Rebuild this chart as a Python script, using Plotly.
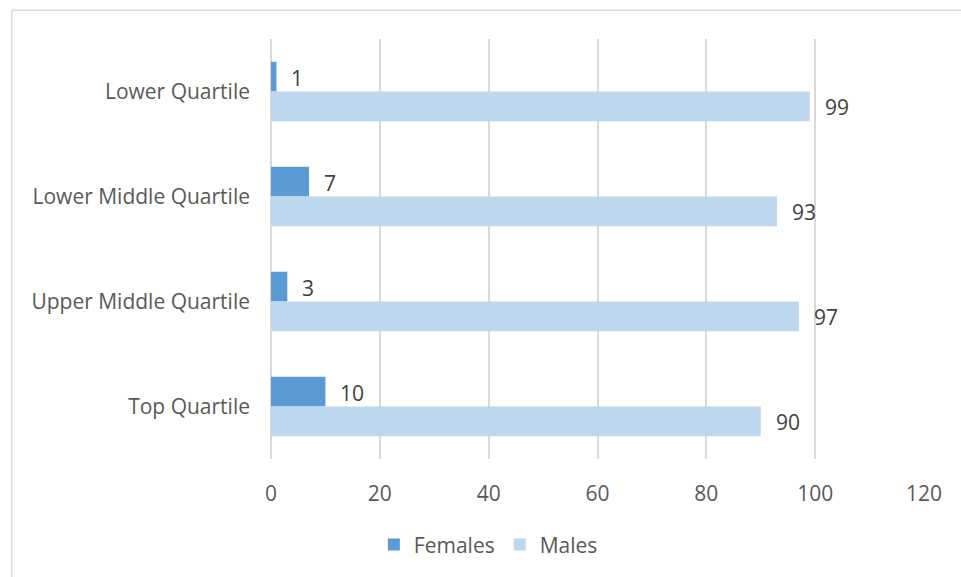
import plotly.graph_objects as go

categories = ["Lower Quartile", "Lower Middle Quartile", "Upper Middle Quartile", "Top Quartile"]
females = [1, 7, 3, 10]
males = [99, 93, 97, 90]
x_ticks = [0, 20, 40, 60, 80, 100, 120]

FONT = "Open Sans"
FS = 21
FEMALE_COLOR = "#5B9BD5"
MALE_COLOR = "#BDD7EE"

W, H = 961, 577
L, R, T, B = 270.5, 37, 39, 114.5
PW = W - L - R
PH = H - T - B

fig = go.Figure()
fig.add_trace(go.Bar(y=categories, x=females, name="Females", orientation="h",
                     marker=dict(color=FEMALE_COLOR, line=dict(width=0))))
fig.add_trace(go.Bar(y=categories, x=males, name="Males", orientation="h",
                     marker=dict(color=MALE_COLOR, line=dict(width=0))))

bargap = 0.433
half = (1 - bargap) / 4
annotations = []
for i, cat in enumerate(categories):
    for val, off in ((females[i], -half), (males[i], half)):
        annotations.append(dict(x=val, y=i + off, xref="x", yref="y", text=str(val),
                                showarrow=False, xanchor="left", yanchor="middle",
                                xshift=13, yshift=-1,
                                font=dict(family=FONT, size=FS, color="#404040")))

def px_to_paper_x(px):
    return (px - L) / PW

def py_to_paper_y(py):
    return (H - B - py) / PH

fig.update_layout(
    width=W, height=H,
    margin=dict(l=L, r=R, t=T, b=B, pad=0),
    paper_bgcolor="white", plot_bgcolor="white",
    barmode="group", bargap=bargap, bargroupgap=0,
    font=dict(family=FONT, size=FS, color="#595959"),
    xaxis=dict(range=[0, 120], tickvals=x_ticks, showgrid=True, gridcolor="#D9D9D9",
               gridwidth=1.5, zeroline=True, zerolinecolor="#D9D9D9", zerolinewidth=1.5,
               showline=False, ticks="", ticklabelstandoff=20,
               tickfont=dict(family=FONT, size=FS, color="#595959")),
    yaxis=dict(autorange="reversed", showgrid=False, zeroline=False, showline=False,
               ticks="", ticklabelstandoff=20,
               tickfont=dict(family=FONT, size=FS, color="#595959")),
    legend=dict(orientation="h", x=px_to_paper_x(488), xanchor="center",
                y=py_to_paper_y(549), yanchor="middle",
                font=dict(family=FONT, size=FS, color="#595959"),
                itemwidth=30, tracegroupgap=0),
    annotations=annotations,
    shapes=[
        dict(type="line", xref="paper", yref="paper",
             x0=px_to_paper_x(11), x1=px_to_paper_x(975),
             y0=py_to_paper_y(10), y1=py_to_paper_y(10),
             line=dict(color="#D9D9D9", width=1.5)),
        dict(type="line", xref="paper", yref="paper",
             x0=px_to_paper_x(11), x1=px_to_paper_x(11),
             y0=py_to_paper_y(10), y1=py_to_paper_y(590),
             line=dict(color="#D9D9D9", width=1.5)),
    ],
)

fig.write_html("out.html")
